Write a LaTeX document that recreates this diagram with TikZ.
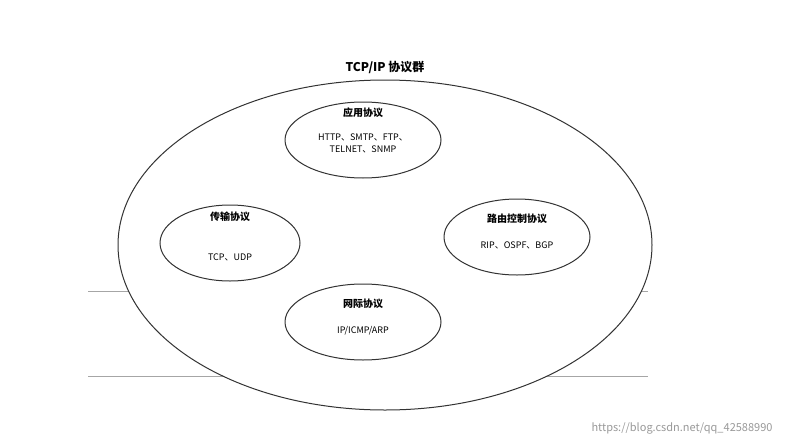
\documentclass[tikz,border=0pt]{standalone}
\usepackage{fontspec}
\setmainfont{Noto Sans CJK SC}
\begin{document}
\begin{tikzpicture}[x=1pt,y=-1pt,
  ell/.style={draw=black!80,line width=1pt,fill=white,ellipse},
  ttl/.style={font=\fontsize{10}{12}\selectfont\bfseries},
  txt/.style={font=\fontsize{9}{12}\selectfont,align=center}]
\useasboundingbox[fill=white] (0,0) rectangle (787,447);
\draw[black!35,line width=0.8pt] (88,291) -- (648,291);
\draw[black!35,line width=0.8pt] (88,376) -- (648,376);
\draw[black!80,line width=1pt,fill=white] (385,245) ellipse [x radius=267,y radius=165];
\node[font=\fontsize{12}{14}\selectfont\bfseries] (title) at (385,67) {TCP/IP 协议群};
\foreach \n/\x/\y/\rx in {a/363/140/78, b/230/243/70, c/517/237/73, d/363/322/78}
  \draw[black!80,line width=1pt,fill=white] (\x,\y) ellipse [x radius=\rx,y radius=38];
\node[ttl] (at) at (363,113) {应用协议};
\node[txt] (ax) at (363,143) {HTTP、SMTP、FTP、\\TELNET、SNMP};
\node[ttl] (bt) at (230,217) {传输协议};
\node[txt] (bx) at (230,257) {TCP、UDP};
\node[ttl] (ct) at (517,219) {路由控制协议};
\node[txt] (cx) at (517,245) {RIP、OSPF、BGP};
\node[ttl] (dt) at (363,304) {网际协议};
\node[txt] (dx) at (363,331) {IP/ICMP/ARP};
\node[font=\fontsize{11}{13}\selectfont,text=black!40] (wm) at (682,428) {https://blog.csdn.net/qq\_42588990};
\end{tikzpicture}
\end{document}
